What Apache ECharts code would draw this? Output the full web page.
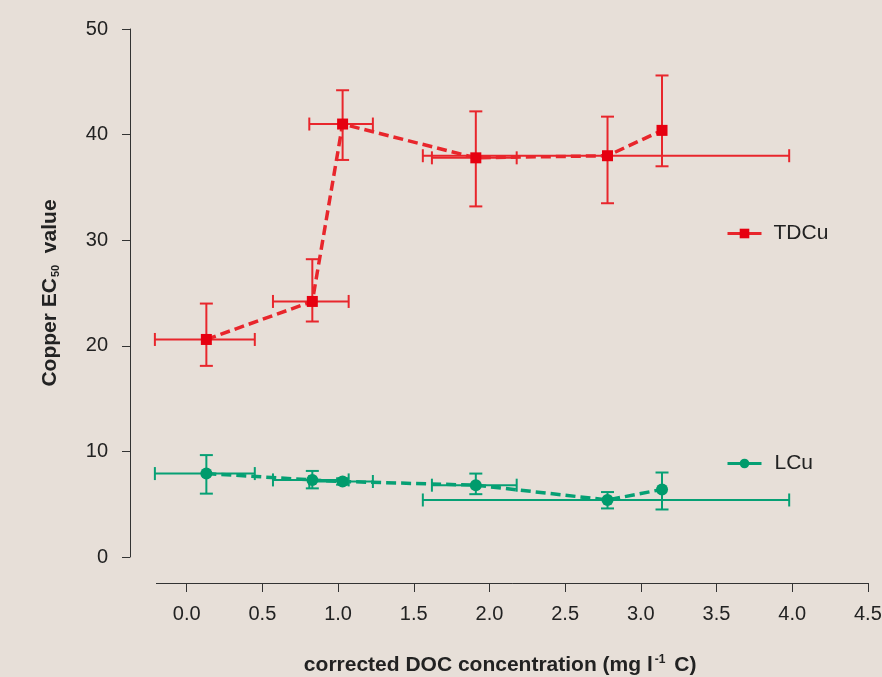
<!DOCTYPE html>
<html>
<head>
<meta charset="utf-8">
<script src="https://cdn.jsdelivr.net/npm/echarts@6/dist/echarts.min.js"></script>
<style>
html,body{margin:0;padding:0;background:#e7dfd8;overflow:hidden;}
#chart{width:882px;height:677px;}
</style>
</head>
<body>
<div id="chart"></div>
<script>
// ---- data ----
const xTicks = [0, 0.5, 1.0, 1.5, 2.0, 2.5, 3.0, 3.5, 4.0, 4.5];
const yTicks = [0, 10, 20, 30, 40, 50];

const tdcuX     = [0.13, 0.83, 1.03, 1.91, 2.78, 3.14];
const tdcuY     = [20.6, 24.2, 41.0, 37.8, 38.0, 40.4];
const tdcuYLow  = [18.1, 22.3, 37.6, 33.2, 33.5, 37.0];
const tdcuYHigh = [24.0, 28.2, 44.2, 42.2, 41.7, 45.6];
const tdcuXLow  = [-0.21, 0.57, 0.81, 1.62, 1.56, 3.14];
const tdcuXHigh = [0.45, 1.07, 1.23, 2.18, 3.98, 3.14];

const lcuX     = [0.13, 0.83, 1.03, 1.91, 2.78, 3.14];
const lcuY     = [7.9, 7.3, 7.15, 6.8, 5.4, 6.4];
const lcuYLow  = [6.0, 6.5, 6.85, 5.95, 4.6, 4.5];
const lcuYHigh = [9.65, 8.15, 7.45, 7.9, 6.15, 8.0];
const lcuXLow  = [-0.21, 0.57, 0.81, 1.62, 1.56, 3.14];
const lcuXHigh = [0.45, 1.07, 1.23, 2.18, 3.98, 3.14];

const RED = '#e60010', RED_L = '#e8262c';
const GREEN = '#009b6c', GREEN_L = '#06a074';
const FONT = "'Liberation Sans', Arial, Helvetica, sans-serif";

function pairs(xs, ys){ return xs.map((x,i)=>[x, ys[i]]); }
function errRows(xs, ys, xl, xh, yl, yh){ return xs.map((x,i)=>[x, ys[i], xl[i], xh[i], yl[i], yh[i]]); }

function errRender(color){
  return function(params, api){
    const x=api.value(0), y=api.value(1), xl=api.value(2), xh=api.value(3), yl=api.value(4), yh=api.value(5);
    const cap = 6.5;
    const st = {stroke: color, lineWidth: 2};
    const ch = [];
    const pT = api.coord([x, yh]), pB = api.coord([x, yl]);
    ch.push({type:'line', shape:{x1:pT[0],y1:pT[1],x2:pB[0],y2:pB[1]}, style:st});
    ch.push({type:'line', shape:{x1:pT[0]-cap,y1:pT[1],x2:pT[0]+cap,y2:pT[1]}, style:st});
    ch.push({type:'line', shape:{x1:pB[0]-cap,y1:pB[1],x2:pB[0]+cap,y2:pB[1]}, style:st});
    if (xh > xl) {
      const pL = api.coord([xl, y]), pR = api.coord([xh, y]);
      ch.push({type:'line', shape:{x1:pL[0],y1:pL[1],x2:pR[0],y2:pR[1]}, style:st});
      ch.push({type:'line', shape:{x1:pL[0],y1:pL[1]-cap,x2:pL[0],y2:pL[1]+cap}, style:st});
      ch.push({type:'line', shape:{x1:pR[0],y1:pR[1]-cap,x2:pR[0],y2:pR[1]+cap}, style:st});
    }
    return {type:'group', children: ch};
  };
}

const chart = echarts.init(document.getElementById('chart'));
chart.setOption({
  backgroundColor: '#e7dfd8',
  animation: false,
  textStyle: {fontFamily: FONT},
  grid: {left: 156.4, top: 29, width: 711.5, height: 528, containLabel: false, outerBoundsMode: 'none'},
  legend: [
    {data: ['TDCu'], left: 726, top: 223, padding: 0, itemWidth: 34, itemHeight: 12,
     lineStyle: {type: 'solid', width: 3, color: RED_L},
     textStyle: {fontSize: 21, color: '#222', fontFamily: FONT, padding: [0,0,0,7]}},
    {data: ['LCu'], left: 726, top: 453, padding: 0, itemWidth: 34, itemHeight: 12,
     lineStyle: {type: 'solid', width: 3, color: GREEN_L},
     textStyle: {fontSize: 21, color: '#222', fontFamily: FONT, padding: [0,0,0,8]}}
  ],
  xAxis: {
    type: 'value', min: -0.2, max: 4.5, offset: 26,
    axisLine: {show: true, onZero: false, lineStyle: {color: '#333', width: 1}},
    axisTick: {show: true, length: 9, lineStyle: {color: '#333'}, customValues: xTicks},
    axisLabel: {show: true, customValues: xTicks, margin: 21, fontSize: 20, color: '#222',
      formatter: v => Number(v).toFixed(1)},
    splitLine: {show: false},
    name: 'corrected DOC concentration (mg l{sup|-1} C)',
    nameLocation: 'middle', nameGap: 71,
    nameTextStyle: {fontSize: 21, fontWeight: 'bold', color: '#222', padding: [0, 24, 0, 0],
      rich: {sup: {fontSize: 12, fontWeight: 'bold', color: '#222', verticalAlign: 'top', padding: [0, 3, 10, 2]}}}
  },
  yAxis: {
    type: 'value', min: 0, max: 50, interval: 10, offset: 26.4,
    axisLine: {show: true, onZero: false, lineStyle: {color: '#333', width: 1}},
    axisTick: {show: true, length: 8, lineStyle: {color: '#333'}},
    axisLabel: {margin: 22, fontSize: 20, color: '#222'},
    splitLine: {show: false},
    name: 'Copper EC{sub|50}  value',
    nameLocation: 'middle', nameGap: 69,
    nameTextStyle: {fontSize: 21, fontWeight: 'bold', color: '#222',
      rich: {sub: {fontSize: 11, fontWeight: 'bold', color: '#222', padding: [10, 0, 0, 1]}}}
  },
  series: [
    {name: 'TDCu err', type: 'custom', renderItem: errRender(RED_L), z: 1,
     data: errRows(tdcuX, tdcuY, tdcuXLow, tdcuXHigh, tdcuYLow, tdcuYHigh),
     encode: {x: [0,2,3], y: [1,4,5]}, silent: true},
    {name: 'LCu err', type: 'custom', renderItem: errRender(GREEN_L), z: 1,
     data: errRows(lcuX, lcuY, lcuXLow, lcuXHigh, lcuYLow, lcuYHigh),
     encode: {x: [0,2,3], y: [1,4,5]}, silent: true},
    {name: 'TDCu', type: 'line', data: pairs(tdcuX, tdcuY), z: 3,
     symbol: 'rect', symbolSize: 11,
     itemStyle: {color: RED},
     lineStyle: {color: RED_L, width: 3.5, type: [10, 5]}},
    {name: 'LCu', type: 'line', data: pairs(lcuX, lcuY), z: 3,
     symbol: 'circle', symbolSize: 12,
     itemStyle: {color: GREEN},
     lineStyle: {color: GREEN_L, width: 3.5, type: [10, 5]}}
  ]
});
</script>
</body>
</html>
